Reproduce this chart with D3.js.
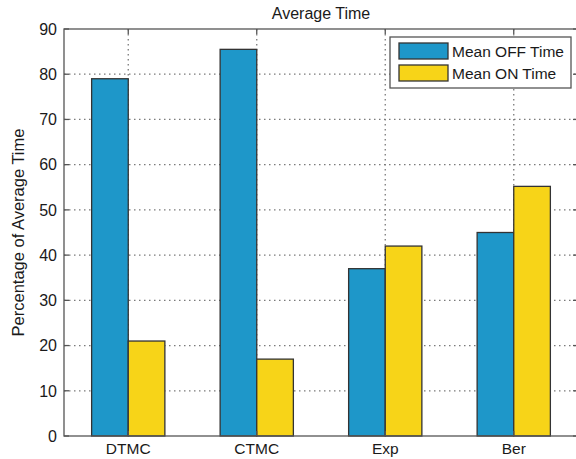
<!DOCTYPE html>
<html>
<head>
<meta charset="utf-8">
<script src="https://cdn.jsdelivr.net/npm/d3@7/dist/d3.min.js"></script>
<style>
  html, body { margin: 0; padding: 0; background: #fff; }
  svg { display: block; }
  text { font-family: "Liberation Sans", Arial, Helvetica, sans-serif; fill: #1a1a1a; }
</style>
</head>
<body>
<svg id="chart" width="576" height="459"></svg>
<script>
// Grouped bar data: mean OFF / ON time per model
const categories = ["DTMC", "CTMC", "Exp", "Ber"];
const seriesNames = ["Mean OFF Time", "Mean ON Time"];
const offTime = [79, 85.5, 37, 45];
const onTime = [21, 17, 42, 55.2];
const yTicks = [0, 10, 20, 30, 40, 50, 60, 70, 80, 90];
const colors = ["#1e97c9", "#f7d418"];

const svg = d3.select("#chart");
const margin = { left: 64, top: 29, right: -2, bottom: 23 };
const W = 576, H = 459;
const x0 = margin.left, x1 = W - margin.right;
const y0 = H - margin.bottom, y1 = margin.top;

// Category axis: positions 1..4 with half a step padding each side
const x = d3.scaleLinear().domain([0.5, 4.5]).range([x0, x1]);
const y = d3.scaleLinear().domain([0, 90]).range([y0, y1]);
const barW = (x(2) - x(1)) * 0.285;

// Dotted grid
const grid = svg.append("g").attr("stroke", "#7a7a7a").attr("stroke-width", 1.3)
  .attr("stroke-dasharray", "1.5,3.5");
grid.selectAll("line.h").data(yTicks.slice(1, -1)).join("line")
  .attr("x1", x0).attr("x2", x1)
  .attr("y1", d => y(d)).attr("y2", d => y(d));
grid.selectAll("line.v").data(categories).join("line")
  .attr("x1", (d, i) => x(i + 1)).attr("x2", (d, i) => x(i + 1))
  .attr("y1", y1).attr("y2", y0);

// Bars
const series = [offTime, onTime];
series.forEach((vals, s) => {
  svg.append("g").selectAll("rect").data(vals).join("rect")
    .attr("x", (d, i) => x(i + 1) + (s === 0 ? -barW : 0))
    .attr("y", d => y(d))
    .attr("width", barW)
    .attr("height", d => y(0) - y(d))
    .attr("fill", colors[s])
    .attr("stroke", "#333")
    .attr("stroke-width", 1.3);
});

// Axes box
svg.append("rect").attr("x", x0).attr("y", y1)
  .attr("width", x1 - x0).attr("height", y0 - y1)
  .attr("fill", "none").attr("stroke", "#555").attr("stroke-width", 1.3);

// Inward ticks on all sides
const ticks = svg.append("g").attr("stroke", "#555").attr("stroke-width", 1.3);
yTicks.forEach(t => {
  ticks.append("line").attr("x1", x0).attr("x2", x0 + 5).attr("y1", y(t)).attr("y2", y(t));
  ticks.append("line").attr("x1", x1).attr("x2", x1 - 5).attr("y1", y(t)).attr("y2", y(t));
});
categories.forEach((c, i) => {
  ticks.append("line").attr("x1", x(i + 1)).attr("x2", x(i + 1)).attr("y1", y0).attr("y2", y0 - 5);
  ticks.append("line").attr("x1", x(i + 1)).attr("x2", x(i + 1)).attr("y1", y1).attr("y2", y1 + 5);
});

// Tick labels
svg.append("g").selectAll("text").data(yTicks).join("text")
  .attr("x", x0 - 7).attr("y", d => y(d)).attr("dy", "0.36em")
  .attr("text-anchor", "end").attr("font-size", 16).text(d => d);
svg.append("g").selectAll("text").data(categories).join("text")
  .attr("x", (d, i) => x(i + 1)).attr("y", y0 + 18)
  .attr("text-anchor", "middle").attr("font-size", 15.5).text(d => d);

// Title and axis label
svg.append("text").attr("x", (x0 + x1) / 2).attr("y", 19)
  .attr("text-anchor", "middle").attr("font-size", 16).text("Average Time");
svg.append("text").attr("transform", `translate(24,${(y0 + y1) / 2}) rotate(-90)`)
  .attr("text-anchor", "middle").attr("font-size", 16.5).text("Percentage of Average Time");

// Legend
const lg = svg.append("g").attr("transform", "translate(390,37)");
lg.append("rect").attr("width", 181).attr("height", 51)
  .attr("fill", "#fff").attr("stroke", "#555").attr("stroke-width", 1.3);
seriesNames.forEach((n, i) => {
  lg.append("rect").attr("x", 9).attr("y", 6 + i * 22).attr("width", 49).attr("height", 16)
    .attr("fill", colors[i]).attr("stroke", "#333").attr("stroke-width", 1.3);
  lg.append("text").attr("x", 62).attr("y", 14 + i * 22).attr("dy", "0.36em")
    .attr("font-size", 15.5).text(n);
});
</script>
</body>
</html>
